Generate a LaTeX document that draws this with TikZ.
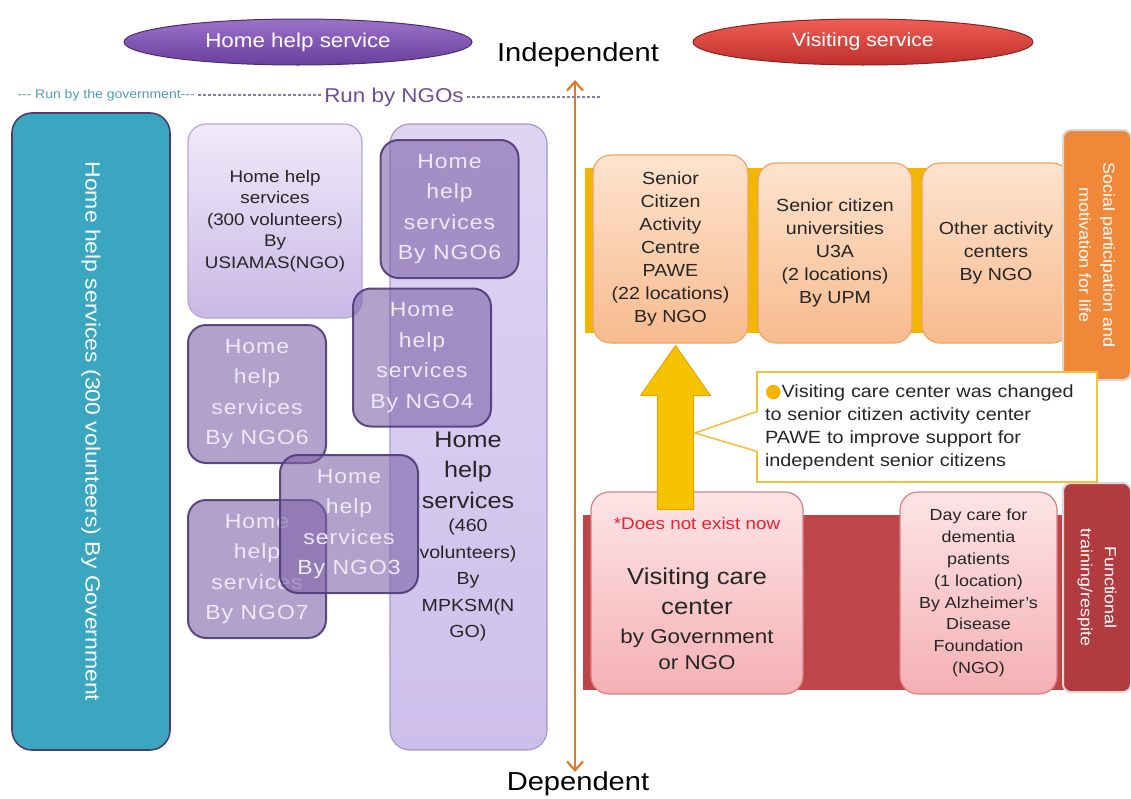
\documentclass[tikz,border=0pt]{standalone}
\usepackage{fontspec}
\setmainfont[FakeStretch=1.12]{Liberation Sans}
\newfontfamily\symfont{DejaVu Sans}
\usetikzlibrary{shapes.geometric,shapes.callouts,arrows.meta,calc}

% palette
\definecolor{tealfill}{HTML}{3AA6BF}
\definecolor{tealedge}{HTML}{4B3D6E}
\definecolor{lavtop}{HTML}{F0EAF9}
\definecolor{lavbot}{HTML}{C9B8E6}
\definecolor{lavedge}{HTML}{B7A6D6}
\definecolor{mptop}{HTML}{DED5F3}
\definecolor{mpbot}{HTML}{CDBFEB}
\definecolor{mpedge}{HTML}{A596CC}
\definecolor{ngofill}{HTML}{7E62A8}
\definecolor{ngoedge}{HTML}{4E3A78}
\definecolor{ngotext}{HTML}{EEE8F7}
\definecolor{purptop}{HTML}{9C72C9}
\definecolor{purpbot}{HTML}{6A3E9E}
\definecolor{purpedge}{HTML}{4B2D72}
\definecolor{redtop}{HTML}{EE5E55}
\definecolor{redbot}{HTML}{C0302B}
\definecolor{rededge}{HTML}{8C2320}
\definecolor{axisorange}{HTML}{E07A2A}
\definecolor{govtext}{HTML}{4A9DB2}
\definecolor{ngotitle}{HTML}{6A4F96}
\definecolor{dashcol}{HTML}{8A7AA8}
\definecolor{bandyellow}{HTML}{F3B600}
\definecolor{peachtop}{HTML}{FDE3CE}
\definecolor{peachbot}{HTML}{F7BB8E}
\definecolor{peachedge}{HTML}{F2A25E}
\definecolor{tabOrange}{HTML}{F0883A}
\definecolor{tabedge}{HTML}{D9D9D9}
\definecolor{bandred}{HTML}{BE4649}
\definecolor{pinktop}{HTML}{FDE4E6}
\definecolor{pinkbot}{HTML}{F4B0B4}
\definecolor{pinkedge}{HTML}{D97F84}
\definecolor{tabRed}{HTML}{B13B3F}
\definecolor{arrowyellow}{HTML}{F6C300}
\definecolor{arrowedge}{HTML}{E3A600}
\definecolor{calloutedge}{HTML}{F2C23E}
\definecolor{bulletcol}{HTML}{F4B400}
\definecolor{notered}{HTML}{E8202A}
\definecolor{darktext}{HTML}{262626}

\newcommand\fs[2]{\fontsize{#1pt}{#2pt}\selectfont}

\begin{document}
\begin{tikzpicture}[x=1pt,y=-1pt,
  sz/.style 2 args={minimum width=#1pt,minimum height=#2pt},
  box/.style={rounded corners=18pt, inner sep=0pt, align=center},
  ngobox/.style={box, sz={138}{138}, fill=ngofill, fill opacity=0.6,
    draw=ngoedge, draw opacity=0.9, line width=2pt, text opacity=1,
    text=ngotext, font=\fs{20.5}{30.5}\addfontfeature{LetterSpace=5}},
  peach/.style={box, top color=peachtop, bottom color=peachbot,
    draw=peachedge, line width=1.2pt, text=darktext, font=\fs{17.5}{23}},
  pink/.style={box, top color=pinktop, bottom color=pinkbot,
    draw=pinkedge, line width=1.2pt, text=darktext},
  sidetab/.style={rounded corners=8pt, draw=tabedge, line width=2pt, inner sep=0pt},
  tabtext/.style={rotate=-90, text=white, align=center, font=\fs{16}{24}},
  dashline/.style={dashcol, line width=1.2pt, dash pattern=on 3pt off 2pt},
  axis/.style={axisorange, line width=2.2pt,
    {Straight Barb[length=9pt,width=16pt]}-{Straight Barb[length=9pt,width=16pt]}},
]
\useasboundingbox (0,0) rectangle (1131,798);

% ---- headers ----
\node[ellipse, sz={348}{46}, inner sep=0pt, top color=purptop, bottom color=purpbot,
  draw=purpedge, line width=1pt, text=white, font=\fs{20}{24}] (homehelp) at (298,42) {Home help service};
\node[ellipse, sz={340}{46}, inner sep=0pt, top color=redtop, bottom color=redbot,
  draw=rededge, line width=1pt, text=white, font=\fs{19}{24}] (visiting) at (863,42) {Visiting service};

\node[font=\fs{26}{30}, text=black] (indep) at (578,55) {Independent};
\node[font=\fs{26}{30}, text=black] (dep) at (578,784) {Dependent};
\coordinate (axtop) at (575,80);
\coordinate (axbot) at (575,772);
\draw[axis] (axtop) -- (axbot);

\node[font=\fs{12.5}{14}, text=govtext] (govrun) at (106,95) {{-}{-}{-} Run by the government{-}{-}{-}};
\node[font=\fs{20}{24}, text=ngotitle] (ngorun) at (394,97) {Run by NGOs};
\coordinate (ngoend) at (600,97);
\draw[dashline] (govrun.east) -- (govrun.east -| ngorun.west);
\draw[dashline] (ngorun.east) -- (ngoend);

% ---- home help side ----
\node[box, rounded corners=20pt, sz={158}{637}, fill=tealfill, draw=tealedge, line width=1.6pt] (govbox) at (91,431.5) {};
\node[tabtext, font=\fs{20.5}{24}] (govtxt) at (govbox.center) {Home help services (300 volunteers) By Government};

\node[box, sz={174}{194}, top color=lavtop, bottom color=lavbot, draw=lavedge, line width=1.2pt,
  text=darktext, font=\fs{16.8}{21.5}] (usiamas) at (275,221) {Home help\\services\\(300 volunteers)\\By\\USIAMAS(NGO)};

\node[box, rounded corners=20pt, sz={157}{626}, top color=mptop, bottom color=mpbot, draw=mpedge, line width=1.2pt] (mpksm) at (468.5,437) {};

\node[ngobox] (ngoSixA) at (449.5,209) {Home\\help\\services\\By NGO6};
\node[ngobox] (ngoFour) at (422,357.5) {Home\\help\\services\\By NGO4};
\node[ngobox] (ngoSixB) at (257,394) {Home\\help\\services\\By NGO6};
\node[ngobox] (ngoSeven) at (257,569) {Home\\help\\services\\By NGO7};
\node[ngobox] (ngoThree) at (349,524) {Home\\help\\services\\By NGO3};

\node[align=center, text=darktext, font=\fs{22.5}{30.5}] (mpA) at (468,470) {Home\\help\\services};
\node[align=center, text=darktext, font=\fs{17.5}{26.5}] (mpB) at (468,580) {(460\\volunteers)\\By\\MPKSM(N\\GO)};

% ---- visiting side: active seniors row ----
\node[inner sep=0pt, sz={485}{165}, fill=bandyellow] (yband) at (827.5,250.5) {};
\node[peach, sz={155}{188}] (senior) at (670.5,249) {Senior\\Citizen\\Activity\\Centre\\PAWE\\(22 locations)\\By NGO};
\node[peach, sz={154}{180}] (uthreea) at (835,253) {Senior citizen\\universities\\U3A\\(2 locations)\\By UPM};
\node[peach, sz={148}{180}] (other) at (996,253) {Other activity\\centers\\By NGO};
\node[sidetab, sz={68}{250}, fill=tabOrange] (socialtab) at (1097,255) {};
\node[tabtext] (socialtxt) at (socialtab.center) {Social participation and\\motivation for life};

% ---- visiting side: care row ----
\node[inner sep=0pt, sz={482}{175}, fill=bandred] (rband) at (824,602.5) {};
\node[pink, sz={212}{202}] (visitcare) at (697,593) {};
\node[pink, sz={157}{202}, font=\fs{16}{21.8}] (daycare) at (978.5,593)
  {Day care for\\dementia\\patients\\(1 location)\\By Alzheimer's\\Disease\\Foundation\\(NGO)};
\node[sidetab, sz={68}{209}, fill=tabRed] (functab) at (1097,587.5) {};
\node[tabtext] (functxt) at (functab.center) {Functional\\training/respite};

\node[font=\fs{16.8}{20}, text=notered] (note) at (697,523) {*Does not exist now};
\node[align=center, text=darktext, font=\fs{23}{30}] (vccA) at (697,591) {Visiting care\\center};
\node[align=center, text=darktext, font=\fs{20}{26}] (vccB) at (697,649) {by Government\\or NGO};

% ---- transition arrow from visiting care to PAWE ----
\coordinate (tip) at ($(senior.south)+(5,2)$);
\coordinate (tail) at ($(tip |- visitcare.north)+(0,18)$);
\filldraw[fill=arrowyellow, draw=arrowedge, line width=1pt, line join=round]
  ($(tail)+(-18,0)$) -- ($(tip)+(-18,50)$) -- ($(tip)+(-35,50)$) -- (tip)
  -- ($(tip)+(35,50)$) -- ($(tip)+(18,50)$) -- ($(tail)+(18,0)$) -- cycle;

\node[rectangle callout, callout absolute pointer={(695,433)}, callout pointer width=40pt,
  fill=white, draw=calloutedge, line width=1.6pt, text width=324pt, inner xsep=8pt,
  minimum height=110pt, align=left, text=darktext, font=\fs{17.7}{23}] (note2) at (927,427)
  {{\symfont\fontsize{19pt}{19pt}\selectfont\textcolor{bulletcol}{●}}Visiting care center was changed\\
   to senior citizen activity center\\
   PAWE to improve support for\\
   independent senior citizens};
\end{tikzpicture}
\end{document}
